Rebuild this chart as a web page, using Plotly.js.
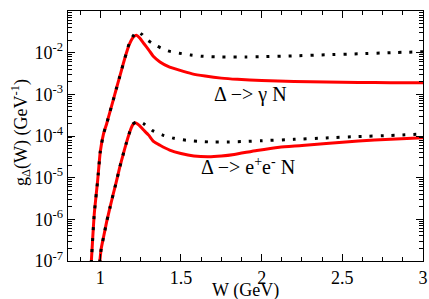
<!DOCTYPE html>
<html>
<head>
<meta charset="utf-8">
<script src="https://cdn.plot.ly/plotly-3.0.1.min.js"></script>
<style>html,body{margin:0;padding:0;background:#fff;}#chart{width:429px;height:299px;}</style>
</head>
<body>
<div id="chart"></div>
<script>
// Δ -> γ N, full model (red solid)
var gammaN_W = [0.944, 0.963, 0.984, 1.0, 1.02, 1.04, 1.06, 1.08, 1.10, 1.12, 1.14, 1.16, 1.18, 1.20, 1.215, 1.226, 1.246, 1.27, 1.30, 1.33, 1.37, 1.42, 1.49, 1.57, 1.65, 1.75, 1.85, 2.0, 2.2, 2.4, 2.6, 2.8, 3.0];
var gammaN_red = [8.9e-8, 1.38e-6, 8.7e-6, 4.2e-5, 1.12e-4, 2.0e-4, 3.8e-4, 7.2e-4, 1.38e-3, 2.63e-3, 5.0e-3, 9.3e-3, 1.58e-2, 2.24e-2, 2.54e-2, 2.6e-2, 2.21e-2, 1.66e-2, 1.17e-2, 8.1e-3, 6.0e-3, 4.7e-3, 3.8e-3, 3.1e-3, 2.75e-3, 2.45e-3, 2.29e-3, 2.16e-3, 2.04e-3, 1.97e-3, 1.93e-3, 1.9e-3, 1.9e-3];
// Δ -> γ N, dotted
var gammaN_dotW = [0.944, 0.963, 0.984, 1.0, 1.02, 1.04, 1.06, 1.08, 1.10, 1.12, 1.14, 1.16, 1.18, 1.20, 1.22, 1.236, 1.26, 1.29, 1.35, 1.42, 1.49, 1.56, 1.63, 1.75, 1.9, 2.0, 2.2, 2.4, 2.6, 2.8, 3.0];
var gammaN_dot = [8.9e-8, 1.38e-6, 8.7e-6, 4.2e-5, 1.12e-4, 2.0e-4, 3.8e-4, 7.2e-4, 1.38e-3, 2.63e-3, 5.0e-3, 9.3e-3, 1.7e-2, 2.4e-2, 3.0e-2, 3.18e-2, 2.7e-2, 2.04e-2, 1.45e-2, 1.1e-2, 9.7e-3, 8.8e-3, 8.2e-3, 7.9e-3, 7.9e-3, 8.0e-3, 8.4e-3, 8.9e-3, 9.4e-3, 1.0e-2, 1.05e-2];
// Δ -> e+e- N, red solid
var eeN_W = [0.996, 1.006, 1.02, 1.04, 1.06, 1.08, 1.10, 1.12, 1.14, 1.16, 1.18, 1.20, 1.216, 1.24, 1.267, 1.30, 1.33, 1.37, 1.43, 1.50, 1.58, 1.67, 1.75, 1.83, 1.97, 2.11, 2.25, 2.40, 2.6, 2.8, 3.0];
var eeN_red = [9.0e-8, 2.0e-7, 3.7e-7, 8.9e-7, 1.9e-6, 4.0e-6, 8.1e-6, 1.74e-5, 3.4e-5, 6.5e-5, 1.17e-4, 1.82e-4, 2.09e-4, 1.82e-4, 1.41e-4, 1.05e-4, 7.4e-5, 6.0e-5, 4.6e-5, 3.8e-5, 3.3e-5, 3.16e-5, 3.3e-5, 3.6e-5, 4.5e-5, 5.4e-5, 5.9e-5, 6.6e-5, 7.6e-5, 8.4e-5, 9.1e-5];
// Δ -> e+e- N, dotted
var eeN_dotW = [0.996, 1.006, 1.02, 1.04, 1.06, 1.08, 1.10, 1.12, 1.14, 1.16, 1.18, 1.20, 1.22, 1.245, 1.267, 1.30, 1.323, 1.387, 1.457, 1.532, 1.604, 1.676, 1.8, 1.9, 2.0, 2.2, 2.4, 2.6, 2.8, 3.0];
var eeN_dot = [9.0e-8, 2.0e-7, 3.7e-7, 8.9e-7, 1.9e-6, 4.0e-6, 8.1e-6, 1.74e-5, 3.4e-5, 6.5e-5, 1.17e-4, 1.9e-4, 2.14e-4, 2.19e-4, 2.0e-4, 1.58e-4, 1.35e-4, 1.05e-4, 8.8e-5, 7.9e-5, 7.5e-5, 7.2e-5, 7.2e-5, 7.4e-5, 7.7e-5, 8.3e-5, 9.0e-5, 9.7e-5, 1.03e-4, 1.12e-4];

var xTickVals = [1, 1.5, 2, 2.5, 3];
var xTickText = ['1', '1.5', '2', '2.5', '3'];
var yTickVals = [1e-7, 1e-6, 1e-5, 1e-4, 1e-3, 1e-2, 1e-1];
var yTickText = ['10<sup>-7</sup>', '10<sup>-6</sup>', '10<sup>-5</sup>', '10<sup>-4</sup>', '10<sup>-3</sup>', '10<sup>-2</sup>', '10<sup>-1</sup>'];

var FONT = 'Liberation Serif';
var redLine = {color: '#ff0000', width: 3, shape: 'spline', smoothing: 0.5};
var dotLine = {color: '#000000', width: 3, dash: '3px,8px', shape: 'spline', smoothing: 0.5};

var traces = [
  {x: gammaN_W, y: gammaN_red, mode: 'lines', line: redLine, hoverinfo: 'skip'},
  {x: eeN_W, y: eeN_red, mode: 'lines', line: redLine, hoverinfo: 'skip'},
  {x: gammaN_dotW, y: gammaN_dot, mode: 'lines', line: dotLine, hoverinfo: 'skip'},
  {x: eeN_dotW, y: eeN_dot, mode: 'lines', line: dotLine, hoverinfo: 'skip'}
];

var axisCommon = {
  showgrid: false, zeroline: false, showline: true, linecolor: '#000', linewidth: 1.3,
  mirror: 'allticks', ticks: 'inside', ticklen: 7, tickwidth: 1, tickcolor: '#000',
  tickfont: {family: FONT, size: 18, color: '#000'}
};

var layout = {
  width: 429, height: 299,
  margin: {l: 68, r: 6, t: 11, b: 38},
  paper_bgcolor: '#fff', plot_bgcolor: '#fff',
  showlegend: false,
  font: {family: FONT, size: 18, color: '#000'},
  xaxis: Object.assign({}, axisCommon, {
    range: [0.8, 3], tickmode: 'array', tickvals: xTickVals, ticktext: xTickText,
    minor: {tick0: 1, dtick: 0.125, ticks: 'inside', ticklen: 4, tickcolor: '#000', tickwidth: 1, showgrid: false}
  }),
  yaxis: Object.assign({}, axisCommon, {
    type: 'log', range: [-7, -1], tickmode: 'array', tickvals: yTickVals, ticktext: yTickText,
    minor: {dtick: 'D1', ticks: 'inside', ticklen: 4, tickcolor: '#000', tickwidth: 1, showgrid: false}
  }),
  annotations: [
    {xref: 'x', yref: 'y', x: 1.93, y: -3.0, text: 'Δ −> γ N', showarrow: false,
     font: {family: FONT, size: 20, color: '#000'}, xanchor: 'center', yanchor: 'middle'},
    {xref: 'x', yref: 'y', x: 1.913, y: -4.72, text: 'Δ −> e<sup>+</sup>e<sup>-</sup> N', showarrow: false,
     font: {family: FONT, size: 20, color: '#000'}, xanchor: 'center', yanchor: 'middle'},
    {xref: 'paper', yref: 'paper', x: 0.5, y: -0.118, text: 'W (GeV)', showarrow: false,
     font: {family: FONT, size: 18, color: '#000'}, xanchor: 'center', yanchor: 'middle'},
    {xref: 'paper', yref: 'paper', x: -0.135, y: 0.512, text: 'g<sub>Δ</sub>(W) (GeV<sup>-1</sup>)', showarrow: false,
     textangle: -90, font: {family: FONT, size: 18, color: '#000'}, xanchor: 'center', yanchor: 'middle'}
  ]
};

Plotly.newPlot('chart', traces, layout, {staticPlot: true, displayModeBar: false});
</script>
</body>
</html>
